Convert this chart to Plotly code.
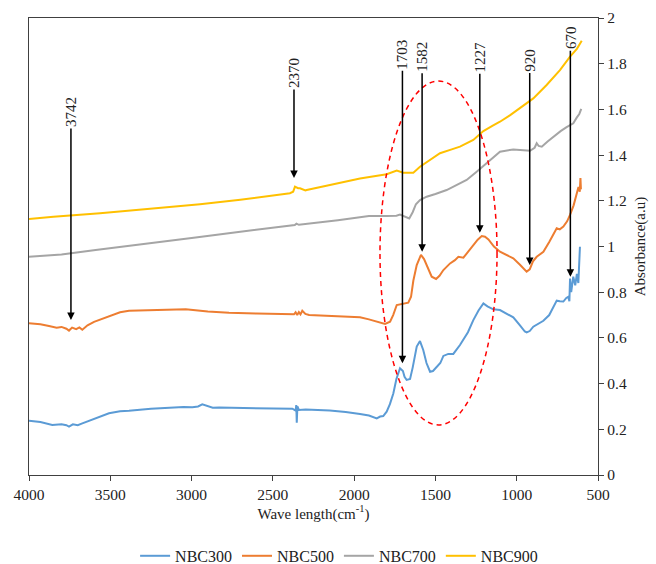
import plotly.graph_objects as go

# ---------------- data ----------------
wn_300 = [4000, 3930, 3857, 3800, 3770, 3754, 3730, 3700, 3672, 3600, 3508, 3440, 3385, 3250, 3139,
          3050, 2995, 2960, 2934, 2900, 2870, 2831, 2700, 2565, 2450, 2380, 2360, 2356, 2353, 2349,
          2340, 2298, 2150, 2052, 1964, 1909, 1861, 1840, 1821, 1800, 1780, 1759, 1740, 1718, 1700,
          1690, 1677, 1656, 1640, 1615, 1595, 1575, 1555, 1533, 1515, 1492, 1470, 1451, 1421, 1390,
          1370, 1349, 1300, 1267, 1235, 1205, 1180, 1144, 1103, 1060, 1021, 980, 950, 939, 920, 898,
          870, 836, 800, 775, 754, 735, 713, 695, 683, 676, 672, 665, 652, 640, 630, 621, 615, 611]
abs_300 = [0.238, 0.232, 0.219, 0.222, 0.218, 0.212, 0.222, 0.218, 0.226, 0.245, 0.270, 0.279, 0.281,
           0.290, 0.296, 0.298, 0.296, 0.300, 0.309, 0.300, 0.294, 0.295, 0.294, 0.293, 0.291, 0.290,
           0.282, 0.306, 0.229, 0.300, 0.285, 0.287, 0.282, 0.276, 0.267, 0.260, 0.248, 0.256, 0.258,
           0.277, 0.310, 0.357, 0.420, 0.467, 0.455, 0.430, 0.416, 0.420, 0.470, 0.562, 0.586, 0.547,
           0.490, 0.452, 0.455, 0.471, 0.490, 0.521, 0.530, 0.530, 0.548, 0.569, 0.625, 0.678, 0.720,
           0.751, 0.738, 0.725, 0.722, 0.705, 0.690, 0.655, 0.628, 0.624, 0.630, 0.649, 0.660, 0.675,
           0.700, 0.737, 0.763, 0.760, 0.759, 0.775, 0.780, 0.760, 0.860, 0.800, 0.868, 0.830, 0.880,
           0.840, 0.930, 0.999]

wn_500 = [4000, 3930, 3877, 3830, 3800, 3770, 3754, 3735, 3710, 3690, 3672, 3640, 3600, 3508, 3440,
          3385, 3200, 3036, 2900, 2770, 2600, 2401, 2370, 2360, 2350, 2340, 2330, 2319, 2300, 2277,
          2100, 1964, 1909, 1850, 1810, 1779, 1760, 1738, 1698, 1667, 1650, 1636, 1615, 1589, 1570,
          1554, 1523, 1496, 1475, 1451, 1410, 1380, 1359, 1328, 1300, 1267, 1240, 1215, 1195, 1174,
          1140, 1103, 1060, 1021, 980, 950, 939, 920, 900, 877, 836, 800, 775, 754, 735, 713, 690,
          672, 650, 631, 620, 612, 608, 605]
abs_500 = [0.664, 0.660, 0.652, 0.645, 0.648, 0.640, 0.632, 0.645, 0.638, 0.646, 0.636, 0.655, 0.670,
           0.693, 0.712, 0.719, 0.722, 0.725, 0.716, 0.710, 0.707, 0.705, 0.703, 0.712, 0.700, 0.713,
           0.703, 0.719, 0.705, 0.700, 0.693, 0.690, 0.681, 0.670, 0.661, 0.671, 0.700, 0.744, 0.751,
           0.754, 0.780, 0.850, 0.919, 0.963, 0.945, 0.919, 0.868, 0.858, 0.872, 0.897, 0.926, 0.940,
           0.955, 0.951, 0.975, 1.007, 1.030, 1.046, 1.043, 1.031, 1.000, 0.977, 0.960, 0.948, 0.920,
           0.895, 0.890, 0.900, 0.935, 0.955, 0.977, 1.020, 1.050, 1.080, 1.075, 1.087, 1.110, 1.138,
           1.180, 1.233, 1.260, 1.240, 1.300, 1.250]

wn_700 = [4000, 3800, 3590, 3300, 2975, 2700, 2400, 2365, 2355, 2340, 2100, 1909, 1800, 1740, 1718,
          1690, 1661, 1640, 1620, 1595, 1554, 1500, 1431, 1380, 1308, 1250, 1185, 1140, 1103, 1021,
          960, 918, 890, 877, 865, 846, 810, 775, 730, 693, 652, 630, 615, 603]
abs_700 = [0.955, 0.965, 0.985, 1.010, 1.039, 1.065, 1.090, 1.094, 1.100, 1.095, 1.115, 1.133, 1.134,
           1.135, 1.140, 1.132, 1.123, 1.150, 1.185, 1.203, 1.218, 1.230, 1.247, 1.265, 1.291, 1.325,
           1.364, 1.395, 1.415, 1.425, 1.420, 1.419, 1.432, 1.452, 1.440, 1.437, 1.460, 1.481, 1.505,
           1.522, 1.539, 1.565, 1.580, 1.602]

wn_900 = [4000, 3850, 3563, 3250, 2948, 2700, 2395, 2375, 2364, 2345, 2333, 2300, 2292, 2149, 1964,
          1800, 1738, 1698, 1636, 1595, 1530, 1472, 1400, 1349, 1267, 1205, 1150, 1103, 1040, 980,
          898, 816, 734, 672, 630, 600]
abs_900 = [1.120, 1.130, 1.145, 1.165, 1.185, 1.205, 1.233, 1.240, 1.262, 1.255, 1.255, 1.245, 1.247,
           1.269, 1.298, 1.316, 1.332, 1.323, 1.323, 1.349, 1.380, 1.408, 1.425, 1.437, 1.466, 1.505,
           1.528, 1.546, 1.575, 1.605, 1.648, 1.707, 1.772, 1.831, 1.865, 1.900]

series_names = ["NBC300", "NBC500", "NBC700", "NBC900"]
series_colors = ["#5B9BD5", "#ED7D31", "#A5A5A5", "#FFC000"]

# peak annotations: wavenumber label, absorbance at arrow tip
peak_labels = [3742, 2370, 1703, 1582, 1227, 920, 670]
peak_tip_abs = [0.678, 1.300, 0.489, 0.977, 1.060, 0.919, 0.868]
peak_label_offset_px = [-208, -105, -309, -195, -176, -205, -239]

# highlighted region (dashed ellipse)
ellipse_wn = [1841, 1121]
ellipse_abs = [0.219, 1.724]

x_ticks = [4000, 3500, 3000, 2500, 2000, 1500, 1000, 500]

FONT = "Liberation Serif, Times New Roman, serif"

fig = go.Figure()
for name, color, xs, ys in zip(series_names, series_colors,
                               [wn_300, wn_500, wn_700, wn_900],
                               [abs_300, abs_500, abs_700, abs_900]):
    fig.add_trace(go.Scatter(x=xs, y=ys, mode="lines", name=name,
                             line=dict(color=color, width=2)))

for lab, tip, off in zip(peak_labels, peak_tip_abs, peak_label_offset_px):
    fig.add_annotation(x=lab, y=tip, xref="x", yref="y", text=str(lab),
                       textangle=-90, showarrow=True, ax=0, ay=off,
                       arrowhead=2, arrowsize=1, arrowwidth=1.5, arrowcolor="black",
                       standoff=0, startstandoff=0,
                       font=dict(family=FONT, size=15, color="#222222"))

fig.add_shape(type="circle", xref="x", yref="y",
              x0=ellipse_wn[0], x1=ellipse_wn[1], y0=ellipse_abs[0], y1=ellipse_abs[1],
              line=dict(color="#FF0000", width=1.5, dash="5px,4px"))

axis_line = "#404040"
fig.update_xaxes(range=[4000, 500], tickvals=x_ticks, ticks="outside", ticklen=5,
                 tickcolor=axis_line, showline=True, linecolor=axis_line, linewidth=1.3,
                 mirror=True, showgrid=False, zeroline=False, automargin=False,
                 tickfont=dict(family=FONT, size=15.5, color="#222222"),
                 title=dict(text="Wave length(cm<sup>-1</sup>)", standoff=6,
                            font=dict(family=FONT, size=15, color="#222222")))
fig.update_yaxes(range=[0, 2], dtick=0.2, side="right", ticks="outside", ticklen=5,
                 tickcolor=axis_line, showline=True, linecolor=axis_line, linewidth=1.3,
                 mirror=True, showgrid=False, zeroline=False, automargin=False,
                 tickfont=dict(family=FONT, size=15.5, color="#222222"),
                 title=dict(text="Absorbance(a.u)", standoff=8,
                            font=dict(family=FONT, size=15, color="#222222")))

fig.update_layout(
    width=656, height=564,
    margin=dict(l=29, r=58, t=18, b=89, autoexpand=False),
    plot_bgcolor="white", paper_bgcolor="white",
    font=dict(family=FONT, color="#222222"),
    legend=dict(orientation="h", xref="paper", yref="paper",
                x=0.545, xanchor="center", y=-0.177, yanchor="middle",
                font=dict(family=FONT, size=16, color="#222222")),
)

fig.write_html("out.html", config={"displayModeBar": False},
               post_script="document.body.style.margin='0px';document.body.style.padding='0px';")
